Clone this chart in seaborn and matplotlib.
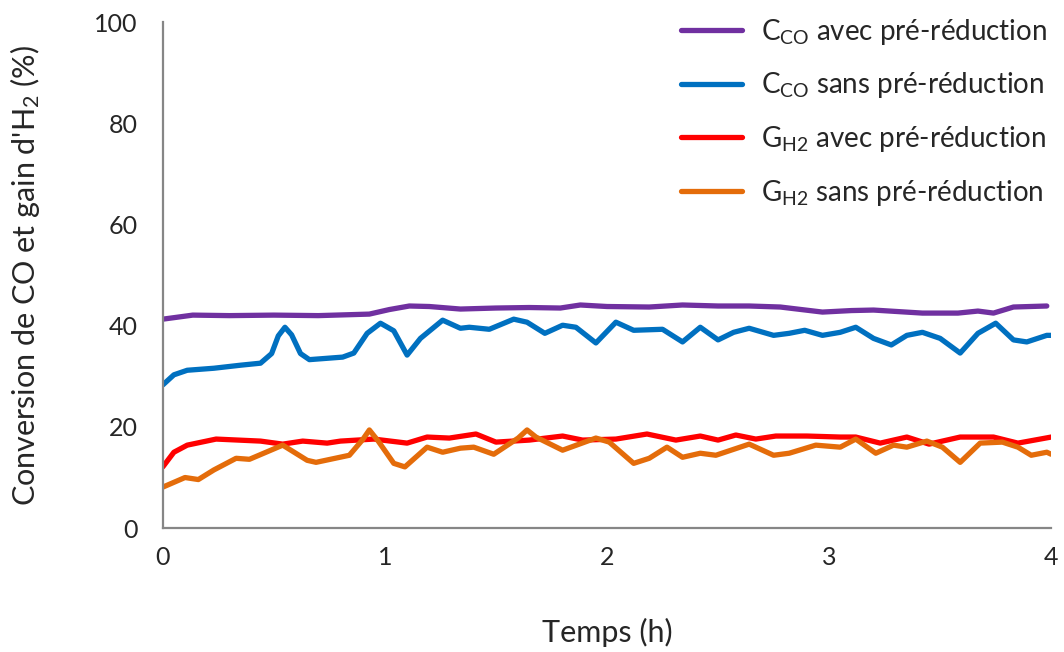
import pandas as pd
import seaborn as sns
import matplotlib
matplotlib.use('Agg')
import matplotlib.pyplot as plt

# values (time in h, value in %)
t_cco_avec = [0, 0.135, 0.3, 0.5, 0.7, 0.93, 1.02, 1.11, 1.2, 1.34, 1.5, 1.65, 1.79, 1.88, 2.0,
              2.19, 2.34, 2.5, 2.64, 2.78, 2.97, 3.1, 3.2, 3.42, 3.58, 3.67, 3.74, 3.83, 3.98]
cco_avec = [41.3, 42.1, 42.0, 42.1, 42.0, 42.3, 43.2, 43.9, 43.8, 43.3, 43.5, 43.6, 43.5, 44.1, 43.8,
            43.7, 44.1, 43.9, 43.9, 43.7, 42.7, 43.0, 43.1, 42.5, 42.5, 42.9, 42.5, 43.7, 43.9]

t_cco_sans = [0, 0.05, 0.11, 0.23, 0.35, 0.44, 0.49, 0.52, 0.55, 0.58, 0.62, 0.66, 0.81, 0.86, 0.92,
              0.98, 1.04, 1.10, 1.16, 1.26, 1.34, 1.38, 1.47, 1.58, 1.64, 1.72, 1.80, 1.86, 1.95,
              2.04, 2.12, 2.25, 2.34, 2.42, 2.50, 2.57, 2.64, 2.75, 2.82, 2.89, 2.97, 3.05, 3.12,
              3.20, 3.28, 3.35, 3.42, 3.50, 3.59, 3.67, 3.75, 3.83, 3.89, 3.98, 4.0]
cco_sans = [28.3, 30.3, 31.2, 31.6, 32.2, 32.6, 34.5, 38.0, 39.7, 38.2, 34.5, 33.3, 33.8, 34.6, 38.5,
            40.5, 39.0, 34.2, 37.5, 41.1, 39.5, 39.7, 39.3, 41.3, 40.7, 38.5, 40.1, 39.7, 36.6,
            40.7, 39.1, 39.3, 36.8, 39.7, 37.2, 38.7, 39.5, 38.1, 38.5, 39.1, 38.1, 38.7, 39.7,
            37.5, 36.2, 38.1, 38.7, 37.5, 34.6, 38.5, 40.5, 37.2, 36.8, 38.1, 38.1]

t_gh2_avec = [0, 0.05, 0.11, 0.24, 0.44, 0.54, 0.63, 0.74, 0.80, 0.95, 1.10, 1.19, 1.29, 1.41, 1.50,
              1.65, 1.80, 1.89, 2.04, 2.18, 2.31, 2.42, 2.50, 2.58, 2.67, 2.76, 2.90, 3.05, 3.12,
              3.23, 3.35, 3.45, 3.59, 3.74, 3.85, 4.0]
gh2_avec = [12.1, 15.0, 16.4, 17.6, 17.2, 16.6, 17.2, 16.8, 17.2, 17.6, 16.8, 18.0, 17.8, 18.6, 17.0,
            17.4, 18.2, 17.4, 17.6, 18.6, 17.4, 18.2, 17.4, 18.4, 17.6, 18.2, 18.2, 18.0, 18.0,
            16.8, 18.0, 16.6, 18.0, 18.0, 16.8, 18.0]

t_gh2_sans = [0, 0.1, 0.16, 0.23, 0.33, 0.39, 0.54, 0.65, 0.69, 0.84, 0.90, 0.93, 0.97, 1.04, 1.09,
              1.19, 1.26, 1.34, 1.40, 1.49, 1.60, 1.64, 1.68, 1.80, 1.95, 2.01, 2.12, 2.19, 2.27,
              2.34, 2.42, 2.49, 2.64, 2.75, 2.82, 2.94, 3.05, 3.12, 3.21, 3.29, 3.35, 3.44, 3.51,
              3.59, 3.68, 3.78, 3.85, 3.91, 3.98, 4.0]
gh2_sans = [8.1, 10.0, 9.6, 11.5, 13.8, 13.6, 16.4, 13.4, 13.0, 14.4, 17.5, 19.4, 17.2, 12.8, 12.1,
            16.0, 15.0, 15.8, 16.0, 14.6, 17.8, 19.4, 18.0, 15.4, 17.8, 17.0, 12.8, 13.8, 16.0,
            14.0, 14.8, 14.4, 16.6, 14.4, 14.8, 16.4, 16.0, 17.6, 14.8, 16.4, 16.0, 17.2, 16.0,
            13.0, 16.8, 17.0, 16.0, 14.4, 15.0, 14.6]

labels = [r'C$_{\mathregular{CO}}$ avec pré-réduction',
          r'C$_{\mathregular{CO}}$ sans pré-réduction',
          r'G$_{\mathregular{H2}}$ avec pré-réduction',
          r'G$_{\mathregular{H2}}$ sans pré-réduction']
colors = ['#7030A0', '#0070C0', '#FF0000', '#E46C0A']

frames = []
for lab, tt, vv in zip(labels,
                       [t_cco_avec, t_cco_sans, t_gh2_avec, t_gh2_sans],
                       [cco_avec, cco_sans, gh2_avec, gh2_sans]):
    frames.append(pd.DataFrame({'Temps': tt, 'Valeur': vv, 'Serie': lab}))
df = pd.concat(frames, ignore_index=True)

sns.set_style('white')
plt.rcParams['font.family'] = ['Lato', 'DejaVu Sans']
plt.rcParams['mathtext.fontset'] = 'custom'
plt.rcParams['mathtext.rm'] = 'Lato'
plt.rcParams['mathtext.it'] = 'Lato'

fig, ax = plt.subplots(figsize=(10.64, 6.52), dpi=100)
fig.subplots_adjust(left=0.153, right=0.988, top=0.966, bottom=0.19)

sns.lineplot(data=df, x='Temps', y='Valeur', hue='Serie', palette=colors,
             hue_order=labels, sort=False, linewidth=3.8, ax=ax)
for line in ax.get_lines():
    line.set_solid_joinstyle('round')
    line.set_solid_capstyle('round')

ax.set_xlim(0, 4)
ax.set_ylim(0, 100)
ax.set_xticks([0, 1, 2, 3, 4])
ax.set_yticks([0, 20, 40, 60, 80, 100])
ax.set_xlabel('Temps (h)', fontsize=22, labelpad=35)
ax.set_ylabel(r"Conversion de CO et gain d'H$_{\mathregular{2}}$ (%)", fontsize=22, labelpad=38)

for side in ['top', 'right']:
    ax.spines[side].set_visible(False)
for side in ['left', 'bottom']:
    ax.spines[side].set_color('#868686')
    ax.spines[side].set_linewidth(1.6)
ax.tick_params(axis='both', which='major', labelsize=18, direction='out', length=6,
               width=1.4, color='#868686', pad=12)
ax.tick_params(axis='x', pad=7)

leg = ax.legend(loc='upper right', bbox_to_anchor=(1.0, 1.0), bbox_transform=fig.transFigure,
                borderaxespad=0.2, frameon=False, fontsize=20,
                handlelength=2.2, handletextpad=0.7, labelspacing=0.85)
for h in leg.get_lines():
    h.set_linewidth(3.8)

fig.savefig('out.png', dpi=100)
